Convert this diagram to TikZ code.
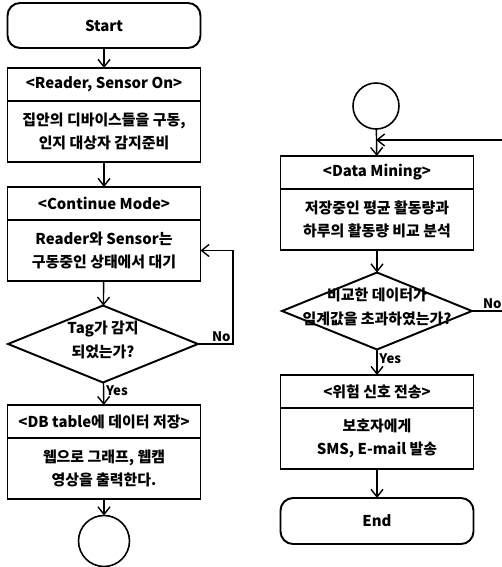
\documentclass[tikz,border=0pt]{standalone}
\usepackage{fontspec}
\setmainfont{Noto Sans CJK KR}
\usetikzlibrary{shapes.geometric,positioning,arrows.meta}

% text of a decision, kept out of the diamond's size
\newcommand{\dtext}[1]{\smash{\makebox[0pt]{\begin{tabular}{@{}c@{}}#1\end{tabular}}}}

\begin{document}
\begin{tikzpicture}
	[x=0.02cm, y=-0.02cm, font=\bfseries\fontsize{8.5}{13.5}\selectfont,
	 base/.style = {draw, line width=1.1pt, outer sep=0pt, minimum width=3.86cm, align=center},
	 term/.style = {base, rounded corners=2.5mm, minimum height=0.9cm},
	 hdr/.style = {base, minimum height=0.66cm, inner sep=0pt},
	 body/.style = {base, minimum height=1.22cm, inner sep=0pt},
	 dec/.style = {draw, diamond, line width=1.1pt, outer sep=0pt, minimum width=3.8cm, minimum height=1.54cm, inner sep=0pt},
	 conn/.style = {draw, circle, line width=0.9pt, outer sep=0pt, inner sep=0pt},
	 flow/.style = {line width=0.8pt, -{Straight Barb[length=1.5mm, width=2.4mm]}},
	 lbl/.style = {font=\bfseries\fontsize{7.5}{9}\selectfont, inner sep=1pt}]
	\useasboundingbox (0,0) rectangle (501,567);
	% left column
	\node[term] (start) at (104,25.5) {Start};
	\node[hdr] (rdh) at (104,84.5) {<Reader, Sensor On>};
	\node[body, below = 0pt of rdh] (rdb) {집안의 디바이스들을 구동,\\인지 대상자 감지준비};
	\node[hdr] (cmh) at (104,203.5) {<Continue Mode>};
	\node[body, below = 0pt of cmh] (cmb) {Reader와 Sensor는\\구동중인 상태에서 대기};
	\node[dec] (tag) at (103,344) {\dtext{Tag가 감지\\되었는가?}};
	\node[hdr] (dbh) at (104,421.5) {<DB table에 데이터 저장>};
	\node[body, below = 0pt of dbh] (dbb) {웹으로 그래프, 웹캠\\영상을 출력한다.};
	\node[conn, minimum size=1.02cm] (con1) at (104,541) {};
	% right column
	\node[conn, minimum size=0.92cm] (con2) at (376,106) {};
	\coordinate (mrg) at (376,140);
	\node[hdr] (dmh) at (377,172.5) {<Data Mining>};
	\node[body, below = 0pt of dmh] (dmb) {저장중인 평균 활동량과\\하루의 활동량 비교 분석};
	\node[dec] (cmp) at (377,311) {\dtext{비교한 데이터가\\임계값을 초과하였는가?}};
	\node[hdr] (dgh) at (377,391.5) {<위험 신호 전송>};
	\node[body, below = 0pt of dgh] (dgb) {보호자에게\\SMS, E-mail 발송};
	\node[term, minimum height=0.92cm] (end) at (377,521) {End};

	\draw[flow] (start) -- (rdh);
	\draw[flow] (rdb) -- (cmh);
	\draw[flow] (cmb) -- (tag);
	\draw[flow] (tag) -- node[lbl, right, pos=0.35] {Yes} (dbh);
	\draw[flow] (dbb) -- (con1);
	\draw[flow] (tag.east) -- ++(35,0) node[lbl, above left] {No} |- (cmb.east);

	\draw[flow] (con2) -- (dmh);
	\draw[flow] (dmb) -- (cmp);
	\draw[flow] (cmp) -- node[lbl, right, pos=0.35] {Yes} (dgh);
	\draw[flow] (dgb) -- (end);
	\draw[flow] (cmp.east) -- node[lbl, above, pos=0.45] {No} ++(45,0) |- (mrg);
\end{tikzpicture}
\end{document}
